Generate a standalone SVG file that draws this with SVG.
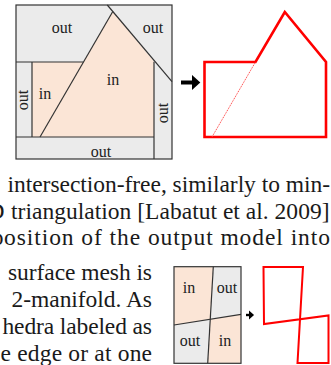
<svg xmlns="http://www.w3.org/2000/svg" width="331" height="365" viewBox="0 0 331 365">
<style>
.lbl{font-family:"Liberation Serif","DejaVu Serif",serif;font-size:16px;fill:#222;text-anchor:middle}
.body{font-family:"Liberation Serif","DejaVu Serif",serif;font-size:23.5px;fill:#1a1a1a}
.cell{stroke:none}
.pink{fill:#fbe5d6}
.gray{fill:#ebebeb}
.ln{stroke:#333;stroke-width:1.2;fill:none}
.red{stroke:#ff0000;fill:none;stroke-linejoin:miter}
</style>
<defs>
<marker id="ah" markerWidth="4" markerHeight="4" refX="0.5" refY="2" orient="auto" markerUnits="strokeWidth">
<path d="M0,0 L2.2,2 L0,4 Z" fill="#000"/>
</marker>
</defs>
<rect width="331" height="365" fill="#fff"/>

<g id="fig-top-partition">
<rect x="16" y="5" width="156" height="154" class="gray"/>
<polygon points="32,62 83.5,62 112.8,11.5 154,61.7 154,137 32,137" class="pink"/>
<rect x="16" y="5" width="156" height="154" class="ln"/>
<line x1="16" y1="62" x2="83.5" y2="62" class="ln"/>
<line x1="32" y1="62" x2="32" y2="137" class="ln"/>
<line x1="16" y1="137" x2="154" y2="137" class="ln"/>
<line x1="154" y1="61.7" x2="154" y2="159" class="ln"/>
<line x1="40" y1="137" x2="112.8" y2="11.5" class="ln"/>
<line x1="107.3" y1="5" x2="172" y2="81.7" class="ln"/>
<text class="lbl" x="62" y="33">out</text>
<text class="lbl" x="153" y="33">out</text>
<text class="lbl" x="113" y="85">in</text>
<text class="lbl" x="45" y="99">in</text>
<text class="lbl" x="101" y="157">out</text>
<text class="lbl" transform="translate(23,100) rotate(-90)" x="0" y="5">out</text>
<text class="lbl" transform="translate(163,113) rotate(-90)" x="0" y="5">out</text>
</g>

<g id="fig-top-result">
<polygon points="204.5,62 255.5,62 284.8,12 326,62 326,137 204.5,137" class="red" stroke-width="2.6"/>
<line x1="212" y1="137" x2="255.5" y2="62" stroke="#ff3b3b" stroke-width="0.9" stroke-dasharray="1.2,0.8"/>
</g>

<g id="fig-bottom-partition">
<polygon points="174,266.7 213.3,266.7 210.2,319.2 174,325" class="pink"/>
<polygon points="213.3,266.7 241,266.7 241,314.3 210.2,319.2" class="gray"/>
<polygon points="174,325 210.2,319.2 207.7,363.3 174,363.3" class="gray"/>
<polygon points="210.2,319.2 241,314.3 241,363.3 207.7,363.3" class="pink"/>
<rect x="174" y="266.7" width="67" height="96.6" class="ln"/>
<line x1="213.3" y1="266.7" x2="207.7" y2="363.3" class="ln"/>
<line x1="174" y1="325" x2="241" y2="314.3" class="ln"/>
<text class="lbl" x="189" y="293">in</text>
<text class="lbl" x="227" y="293">out</text>
<text class="lbl" x="190" y="346">out</text>
<text class="lbl" x="225" y="346">in</text>
</g>

<g id="fig-bottom-result">
<polygon points="263.5,267 303,267 297.5,363 328.5,363 328.5,315.5 264,324" class="red" stroke-width="2"/>
</g>

<g id="connectors">
<line x1="181" y1="82.5" x2="193.5" y2="82.5" stroke="#000" stroke-width="4" marker-end="url(#ah)"/>
<line x1="246" y1="315" x2="250" y2="315" stroke="#000" stroke-width="2.4" marker-end="url(#ah)"/>
</g>

<g id="body-text">
<text class="body" x="7.5" y="192" textLength="322.5" lengthAdjust="spacing">intersection-free, similarly to min-</text>
<text class="body" x="4.5" y="218.5" text-anchor="end">D</text>
<text class="body" x="11" y="218.5" textLength="318.5" lengthAdjust="spacing">triangulation [Labatut et al. 2009]</text>
<text class="body" x="3.5" y="245" text-anchor="end">p</text>
<text class="body" x="4" y="245" textLength="326" lengthAdjust="spacing">osition of the output model into</text>
<text class="body" x="8" y="280" textLength="144" lengthAdjust="spacing">surface mesh is</text>
<text class="body" x="11.5" y="307" textLength="140.5" lengthAdjust="spacing">2-manifold. As</text>
<text class="body" x="2.5" y="333.5" textLength="149.5" lengthAdjust="spacing">hedra labeled as</text>
<text class="body" x="0.5" y="360.5" textLength="151.5" lengthAdjust="spacing">e edge or at one</text>
</g>
</svg>
